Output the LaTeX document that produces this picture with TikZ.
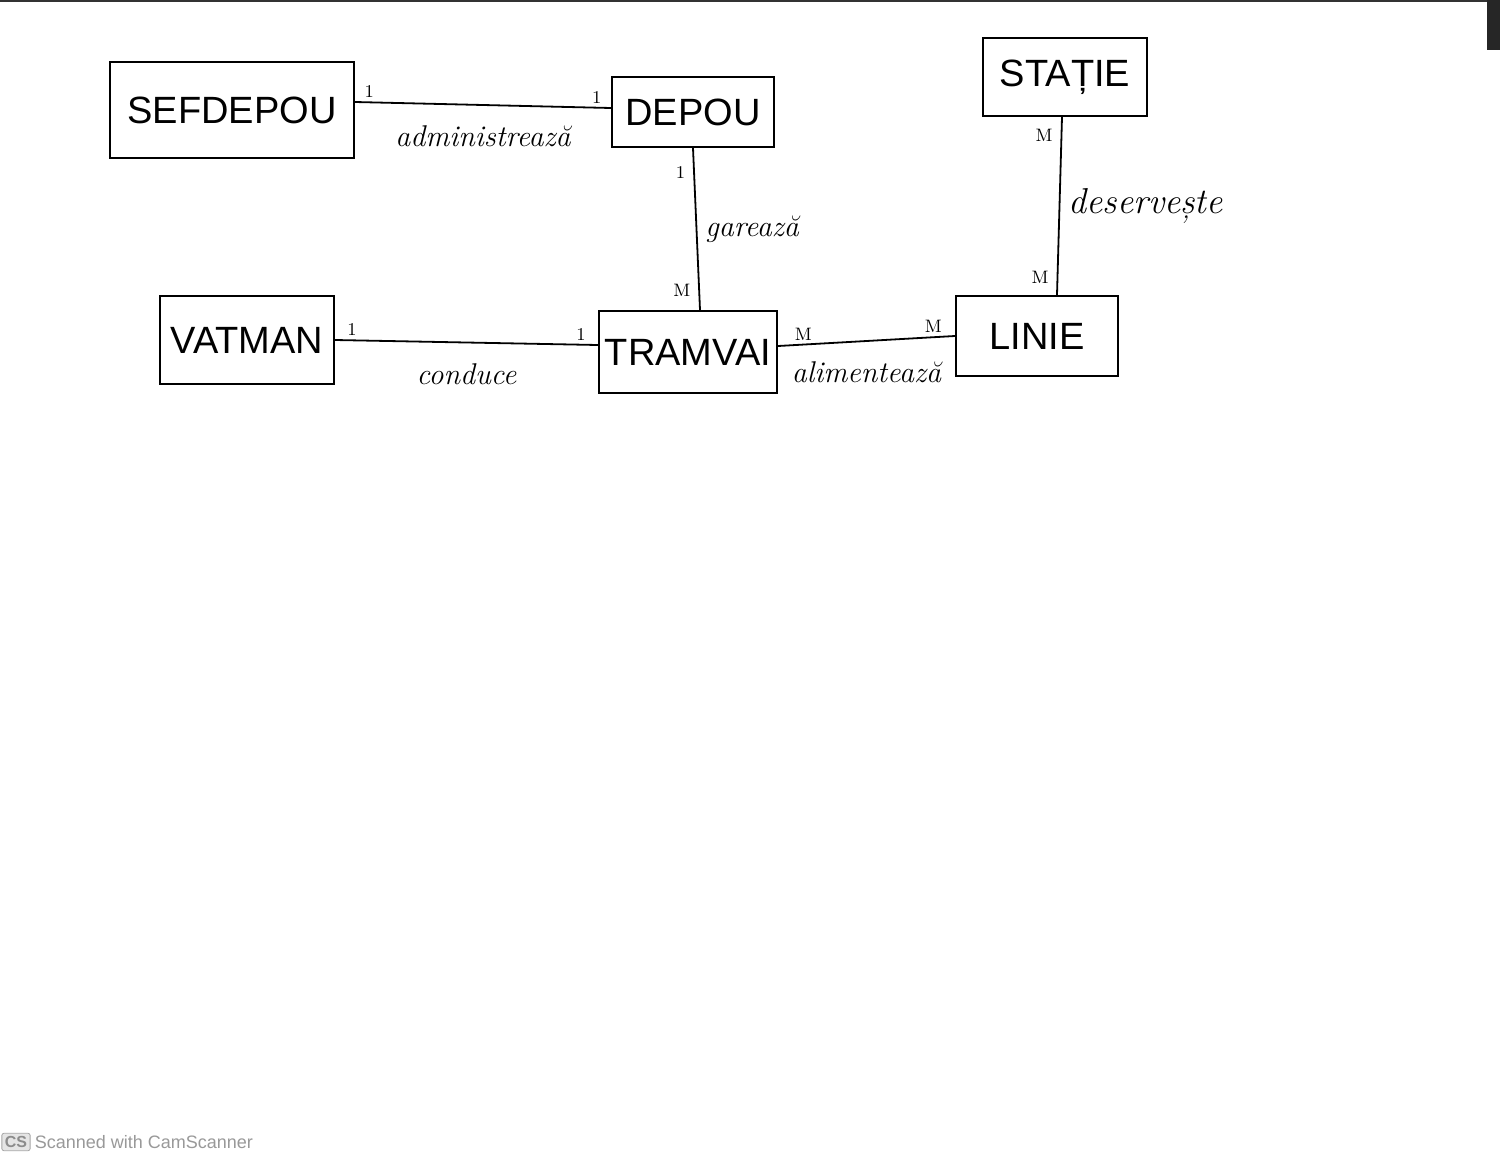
\documentclass[tikz,border=0pt]{standalone}
\usepackage{fontspec}
\setsansfont{Liberation Sans}
\usetikzlibrary{positioning}
\begin{document}
\begin{tikzpicture}[x=0.5pt,y=-0.5pt,
  entity/.style={draw, line width=1.1pt, inner sep=0pt, font=\sffamily\fontsize{19}{21}\selectfont},
  rel/.style={font=\itshape\fontsize{15}{17}\selectfont, inner sep=1pt},
  card/.style={font=\fontsize{9}{10}\selectfont, inner sep=1pt},
  link/.style={line width=0.9pt}]
\useasboundingbox (0,0) rectangle (1500,1162);
\fill[white] (0,0) rectangle (1500,1162);
\fill[black!80] (0,0) rectangle (1500,2);
\fill[black!85] (1487,0) rectangle (1500,50);
% entities
\node[entity, minimum width=122pt, minimum height=48pt] (sef) at (232,110) {SEFDEPOU};
\node[entity, minimum width=81pt, minimum height=35pt] (depou) at (693,112) {DEPOU};
\node[entity, minimum width=82pt, minimum height=39pt] (statie) at (1065,77) {STAȚIE};
\node[entity, minimum width=87pt, minimum height=44pt] (vatman) at (247,340) {VATMAN};
\node[entity, minimum width=89pt, minimum height=41pt] (tramvai) at (688,352) {TRAMVAI};
\node[entity, minimum width=81pt, minimum height=40pt] (linie) at (1037,336) {LINIE};
% connectors
\draw[link] ([yshift=4pt]sef.east) -- ([yshift=2pt]depou.west)
  node[pos=0.5, below=9pt, rel] (r1) {administrează}
  node[pos=0.02, above right=1pt, card] (c1a) {1}
  node[pos=0.98, above left=1pt, card] (c1b) {1};
\draw[link] (depou.south) -- ([xshift=6pt]tramvai.north)
  node[pos=0.5, right=3pt, rel] (r2) {garează}
  node[pos=0.15, left=3pt, card] (c2a) {1}
  node[pos=0.88, left=3pt, card] (c2b) {M};
\draw[link] ([xshift=-1.5pt]statie.south) -- ([xshift=10pt]linie.north)
  node[pos=0.5, right=3pt, rel, font=\itshape\fontsize{18}{20}\selectfont] (r3) {deservește}
  node[pos=0.1, left=3pt, card] (c3a) {M}
  node[pos=0.9, left=3pt, card] (c3b) {M};
\draw[link] (vatman.east) -- ([yshift=3.5pt]tramvai.west)
  node[pos=0.5, below=9pt, rel] (r4) {conduce}
  node[pos=0.03, above right=1pt, card] (c4a) {1}
  node[pos=0.97, above left=1pt, card] (c4b) {1};
\draw[link] ([yshift=3pt]tramvai.east) -- (linie.west)
  node[pos=0.5, below=9pt, rel] (r5) {alimentează}
  node[pos=0.07, above right=1pt, card] (c5a) {M}
  node[pos=0.95, above left=1pt, card] (c5b) {M};
% watermark
\node[draw=black!35, fill=black!10, rounded corners=1pt, text=black!45, inner sep=1.5pt,
  font=\sffamily\bfseries\fontsize{8}{9}\selectfont] (cs) at (16,1142) {CS};
\node[anchor=west, text=black!40, inner sep=0pt, font=\sffamily\fontsize{9}{10}\selectfont] (wm) at (cs.east) {\hspace{2pt}Scanned with CamScanner};
\end{tikzpicture}
\end{document}
